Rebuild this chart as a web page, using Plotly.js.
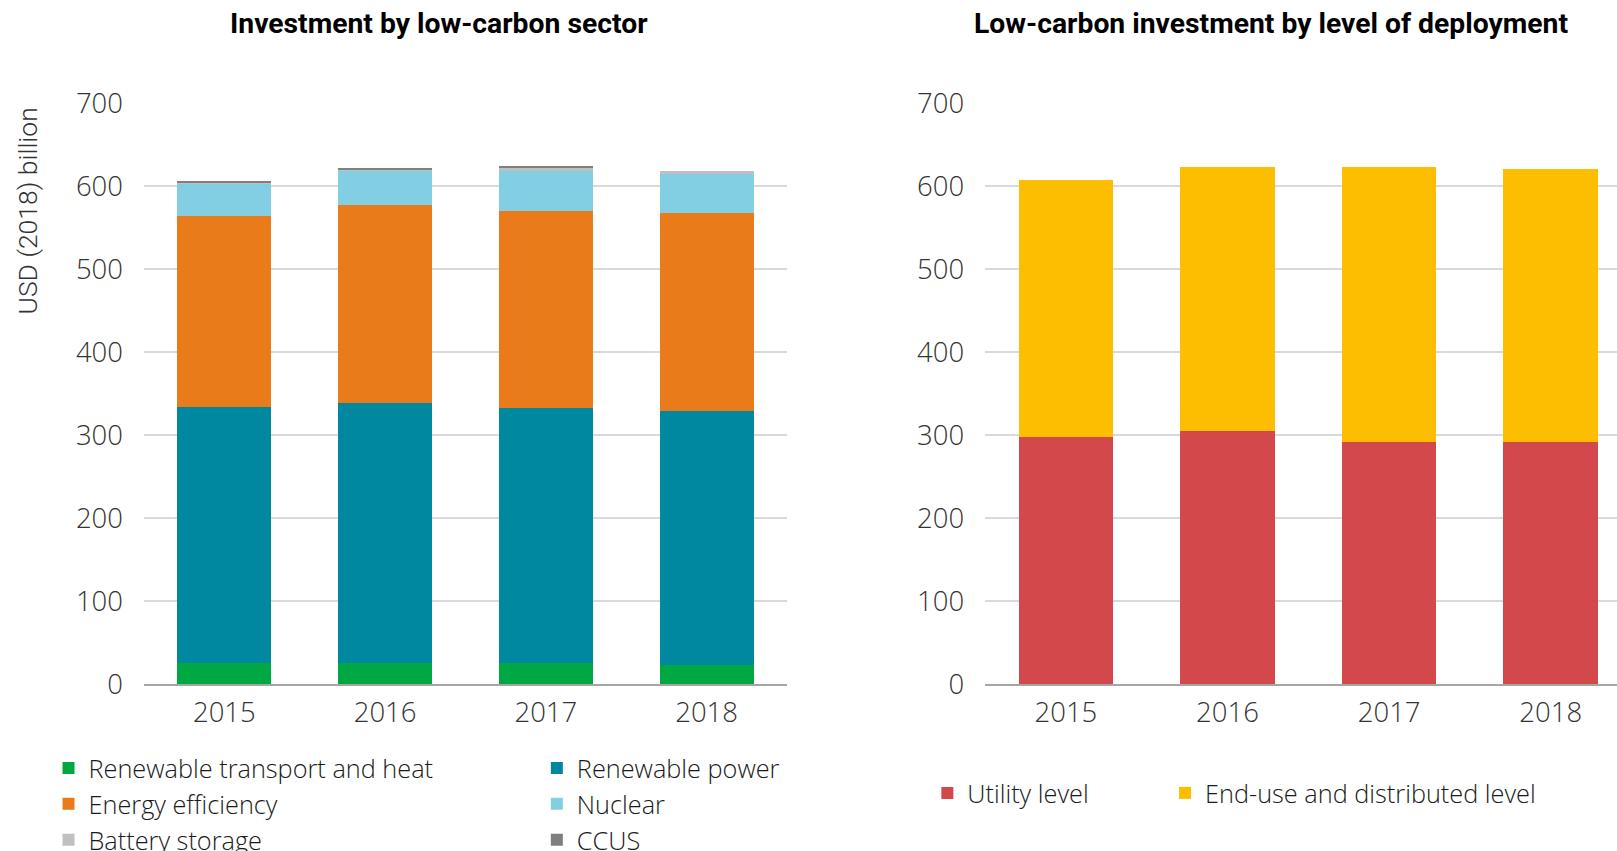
<!DOCTYPE html>
<html>
<head>
<meta charset="utf-8">
<script src="https://cdn.plot.ly/plotly-3.0.1.min.js"></script>
<style>
  html, body { margin: 0; padding: 0; background: #fff; }
  #chart { width: 1617px; height: 851px; }
</style>
</head>
<body>
<div id="chart"></div>
<script>
// values, USD (2018) billion
var years = ['2015', '2016', '2017', '2018'];

var renewTransportHeat = [25, 25, 25, 22.5];
var renewPower = [309, 313, 307, 306];
var energyEfficiency = [230, 239, 238, 238.5];
var nuclear = [39, 41, 48, 48];
var batteryStorage = [0.5, 1, 3.7, 3];
var ccus = [3, 2.5, 3, 0.5];

var utilityLevel = [298, 305, 292, 292];
var endUseLevel = [309, 318, 331, 328];

var yTicks = [0, 100, 200, 300, 400, 500, 600, 700];

var FONT = 'Roboto, "Liberation Sans", sans-serif';
var LIGHTFONT = '"Open Sans", Roboto, sans-serif';

function bar(name, y, color, xa, ya, leg) {
    return {
        type: 'bar',
        x: years,
        y: y,
        name: name,
        xaxis: xa,
        yaxis: ya,
        legend: leg,
        marker: { color: color, line: { width: 0 } },
        hoverinfo: 'x+y+name'
    };
}

var data = [
    bar('Renewable transport and heat', renewTransportHeat, '#00a843', 'x', 'y', 'legend'),
    bar('Renewable power', renewPower, '#0088a0', 'x', 'y', 'legend2'),
    bar('Energy efficiency', energyEfficiency, '#e97b1a', 'x', 'y', 'legend'),
    bar('Nuclear', nuclear, '#82cee2', 'x', 'y', 'legend2'),
    bar('Battery storage', batteryStorage, '#c0c0c0', 'x', 'y', 'legend'),
    bar('CCUS', ccus, '#7f7f7f', 'x', 'y', 'legend2'),
    bar('Utility level', utilityLevel, '#d3484b', 'x2', 'y2', 'legend3'),
    bar('End-use and distributed level', endUseLevel, '#fdbd00', 'x2', 'y2', 'legend4')
];

var tickFont = { family: LIGHTFONT, size: 27.5, color: '#333333', weight: 300 };
var legFont = { family: LIGHTFONT, size: 25.3, color: '#1a1a1a', weight: 300 };

function yAxis(anchor) {
    return {
        anchor: anchor,
        range: [0, 700],
        tickvals: yTicks,
        showgrid: true,
        gridcolor: '#d9d9d9',
        gridwidth: 2,
        zeroline: false,
        showline: false,
        ticks: '',
        ticklabelstandoff: 20,
        tickfont: tickFont,
        fixedrange: true
    };
}

function xAxis(anchor, domain, range) {
    return {
        anchor: anchor,
        type: 'category',
        domain: domain,
        range: range,
        showgrid: false,
        zeroline: false,
        showline: true,
        linecolor: '#a6a6a6',
        linewidth: 2,
        ticks: '',
        tickangle: 0,
        ticklabelstandoff: 3,
        tickfont: tickFont,
        fixedrange: true
    };
}

function legendAt(x, y) {
    return {
        x: x, xref: 'container', xanchor: 'left',
        y: y, yref: 'container', yanchor: 'middle',
        orientation: 'v',
        traceorder: 'normal',
        font: legFont,
        bgcolor: 'rgba(0,0,0,0)',
        borderwidth: 0,
        tracegroupgap: 0
    };
}

var layout = {
    width: 1617,
    height: 851,
    margin: { l: 144, r: 0, t: 103, b: 167, pad: 0, autoexpand: false },
    paper_bgcolor: '#ffffff',
    plot_bgcolor: '#ffffff',
    barmode: 'stack',
    bargap: 0.415,
    showlegend: true,
    xaxis: xAxis('y', [0, 0.4365], [-0.5, 3.5]),
    yaxis: yAxis('x'),
    xaxis2: xAxis('y2', [0.571, 1], [-0.5, 3.41]),
    yaxis2: yAxis('x2'),
    legend: legendAt(0.030, 0.0552),
    legend2: legendAt(0.332, 0.0552),
    legend3: legendAt(0.5735, 0.0682),
    legend4: legendAt(0.7205, 0.0682),
    annotations: [
        {
            text: 'Investment by low-carbon sector',
            xref: 'paper', yref: 'paper',
            x: 0.2003, y: 1.136,
            xanchor: 'center', yanchor: 'middle',
            showarrow: false,
            font: { family: FONT, size: 28.3, color: '#000000', weight: 700 }
        },
        {
            text: 'Low-carbon investment by level of deployment',
            xref: 'paper', yref: 'paper',
            x: 0.7651, y: 1.136,
            xanchor: 'center', yanchor: 'middle',
            showarrow: false,
            font: { family: FONT, size: 28.3, color: '#000000', weight: 700 }
        },
        {
            text: 'USD (2018) billion',
            xref: 'paper', yref: 'y',
            x: -0.079, y: 570,
            xanchor: 'center', yanchor: 'middle',
            textangle: -90,
            showarrow: false,
            font: { family: FONT, size: 26.5, color: '#333333', weight: 300 }
        }
    ]
};

Plotly.newPlot('chart', data, layout, { displayModeBar: false, staticPlot: true });
</script>
</body>
</html>
